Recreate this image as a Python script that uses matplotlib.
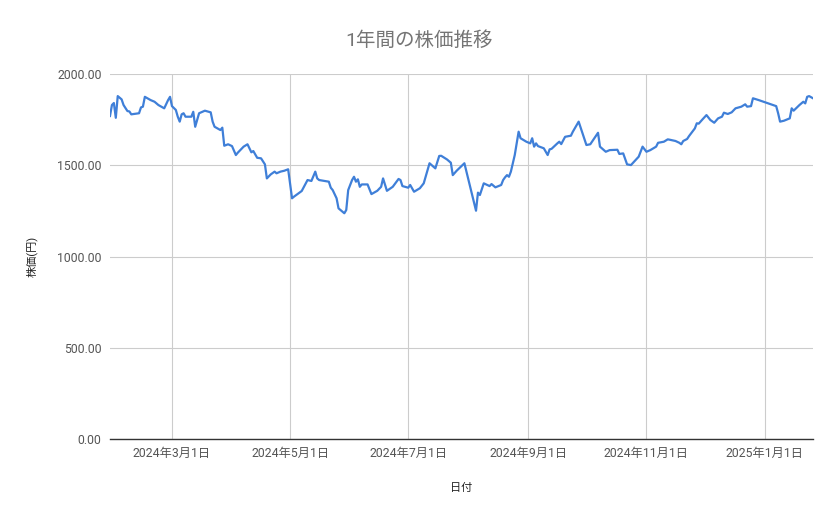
import matplotlib
matplotlib.use("Agg")
import matplotlib.pyplot as plt
import matplotlib.dates as mdates
import numpy as np
import pandas as pd

plt.rcParams['font.family'] = ['Roboto', 'Noto Sans CJK JP', 'DejaVu Sans']

title = "1年間の株価推移"
x_label = "日付"
y_label = "株価(円)"

dates = [
    "2024-01-29", "2024-01-30", "2024-01-31", "2024-02-01", "2024-02-02", "2024-02-04",
    "2024-02-05", "2024-02-07", "2024-02-08", "2024-02-09", "2024-02-13", "2024-02-14",
    "2024-02-15", "2024-02-16", "2024-02-19", "2024-02-21", "2024-02-23", "2024-02-26",
    "2024-02-28", "2024-02-29", "2024-03-01", "2024-03-03", "2024-03-04", "2024-03-05",
    "2024-03-06", "2024-03-07", "2024-03-08", "2024-03-11", "2024-03-12", "2024-03-13",
    "2024-03-15", "2024-03-18", "2024-03-21", "2024-03-22", "2024-03-23", "2024-03-26",
    "2024-03-27", "2024-03-28", "2024-03-30", "2024-04-01", "2024-04-03", "2024-04-04",
    "2024-04-07", "2024-04-09", "2024-04-11", "2024-04-12", "2024-04-14", "2024-04-16",
    "2024-04-18", "2024-04-19", "2024-04-21", "2024-04-23", "2024-04-24", "2024-04-26",
    "2024-04-28", "2024-04-30", "2024-05-02", "2024-05-03", "2024-05-07", "2024-05-10",
    "2024-05-12", "2024-05-14", "2024-05-15", "2024-05-16", "2024-05-21", "2024-05-22",
    "2024-05-23", "2024-05-25", "2024-05-26", "2024-05-29", "2024-05-30", "2024-05-31",
    "2024-06-02", "2024-06-03", "2024-06-04", "2024-06-05", "2024-06-06", "2024-06-07",
    "2024-06-10", "2024-06-12", "2024-06-15", "2024-06-17", "2024-06-18", "2024-06-20",
    "2024-06-23", "2024-06-26", "2024-06-27", "2024-06-28", "2024-07-01", "2024-07-02",
    "2024-07-04", "2024-07-07", "2024-07-09", "2024-07-12", "2024-07-15", "2024-07-17",
    "2024-07-18", "2024-07-21", "2024-07-23", "2024-07-24", "2024-07-26", "2024-07-30",
    "2024-08-02", "2024-08-05", "2024-08-06", "2024-08-07", "2024-08-09", "2024-08-12",
    "2024-08-13", "2024-08-15", "2024-08-18", "2024-08-19", "2024-08-20", "2024-08-21",
    "2024-08-22", "2024-08-23", "2024-08-25", "2024-08-27", "2024-08-28", "2024-08-31",
    "2024-09-02", "2024-09-03", "2024-09-04", "2024-09-05", "2024-09-06", "2024-09-09",
    "2024-09-11", "2024-09-12", "2024-09-13", "2024-09-16", "2024-09-17", "2024-09-18",
    "2024-09-20", "2024-09-23", "2024-09-24", "2024-09-27", "2024-09-29", "2024-10-01",
    "2024-10-03", "2024-10-07", "2024-10-08", "2024-10-11", "2024-10-13", "2024-10-17",
    "2024-10-18", "2024-10-20", "2024-10-22", "2024-10-24", "2024-10-28", "2024-10-30",
    "2024-11-01", "2024-11-03", "2024-11-06", "2024-11-07", "2024-11-10", "2024-11-12",
    "2024-11-13", "2024-11-16", "2024-11-18", "2024-11-19", "2024-11-20", "2024-11-22",
    "2024-11-23", "2024-11-26", "2024-11-27", "2024-11-28", "2024-11-30", "2024-12-02",
    "2024-12-04", "2024-12-06", "2024-12-08", "2024-12-10", "2024-12-11", "2024-12-13",
    "2024-12-15", "2024-12-17", "2024-12-20", "2024-12-22", "2024-12-23", "2024-12-25",
    "2024-12-26", "2024-12-29", "2025-01-01", "2025-01-04", "2025-01-07", "2025-01-08",
    "2025-01-09", "2025-01-11", "2025-01-14", "2025-01-15", "2025-01-16", "2025-01-19",
    "2025-01-21", "2025-01-22", "2025-01-23", "2025-01-24", "2025-01-26",
]

prices = [
    1770, 1830, 1841, 1760, 1879, 1861,
    1830, 1797, 1795, 1779, 1785, 1817,
    1821, 1875, 1857, 1848, 1830, 1812,
    1857, 1875, 1824, 1803, 1766, 1739,
    1779, 1785, 1766, 1766, 1793, 1711,
    1785, 1799, 1790, 1739, 1711, 1693,
    1706, 1607, 1615, 1605, 1556, 1569,
    1602, 1615, 1571, 1578, 1541, 1538,
    1505, 1428, 1450, 1465, 1456, 1465,
    1470, 1478, 1319, 1328, 1359, 1419,
    1414, 1465, 1428, 1419, 1410, 1377,
    1364, 1319, 1264, 1237, 1255, 1364,
    1419, 1437, 1410, 1423, 1382, 1395,
    1395, 1342, 1360, 1382, 1428, 1360,
    1382, 1425, 1419, 1386, 1377, 1392,
    1355, 1374, 1401, 1511, 1483, 1551,
    1552, 1532, 1514, 1446, 1470, 1511,
    1382, 1251, 1350, 1337, 1401, 1386,
    1397, 1379, 1392, 1419, 1434, 1446,
    1437, 1465, 1556, 1684, 1648, 1629,
    1620, 1648, 1602, 1620, 1605, 1593,
    1556, 1587, 1590, 1620, 1629, 1616,
    1656, 1662, 1684, 1739, 1675, 1611,
    1615, 1678, 1602, 1574, 1583, 1585,
    1562, 1565, 1505, 1501, 1547, 1602,
    1574, 1583, 1602, 1623, 1629, 1642,
    1640, 1633, 1623, 1615, 1633, 1644,
    1660, 1702, 1730, 1728, 1752, 1775,
    1748, 1733, 1757, 1766, 1788, 1781,
    1790, 1812, 1821, 1834, 1821, 1824,
    1867, 1857, 1846, 1835, 1824, 1785,
    1739, 1744, 1757, 1812, 1799, 1830,
    1848, 1839, 1875, 1879, 1867,
]

y_ticks = [0, 500, 1000, 1500, 2000]
x_ticks = ["2024-03-01", "2024-05-01", "2024-07-01", "2024-09-01", "2024-11-01", "2025-01-01"]

d = pd.to_datetime(dates)
xt = pd.to_datetime(x_ticks)

fig = plt.figure(figsize=(8.39, 5.19), dpi=100)
ax = fig.add_axes([0.1311, 0.1541, 0.969 - 0.1311, 0.8574 - 0.1541])

ax.plot(d, prices, color='#3f7fd8', linewidth=1.6, solid_joinstyle='round', zorder=3)

ax.set_xlim(d.min(), d.max())
ax.set_ylim(0, 2000)
ax.set_yticks(y_ticks)
ax.set_yticklabels([f"{v:.2f}" for v in y_ticks])
ax.set_xticks(xt)
ax.set_xticklabels([f"{t.year}年{t.month}月{t.day}日" for t in xt])

ax.grid(True, color='#cccccc', linewidth=0.8)
ax.set_axisbelow(True)
for s in ['top', 'right', 'left']:
    ax.spines[s].set_visible(False)
ax.spines['bottom'].set_color('#333333')
ax.spines['bottom'].set_linewidth(1.0)
ax.spines['bottom'].set_zorder(4)
ax.tick_params(axis='both', length=0, labelsize=8.8, colors='#555555')
ax.tick_params(axis='y', pad=6)
ax.tick_params(axis='x', pad=6)

ax.set_xlabel(x_label, fontsize=8, color='#222222', labelpad=16)
ax.set_ylabel(y_label, fontsize=8, color='#222222', labelpad=14)
fig.text(0.5, 0.922, title, ha='center', va='center', fontsize=14, color='#757575')

fig.savefig("out.png", dpi=100)
